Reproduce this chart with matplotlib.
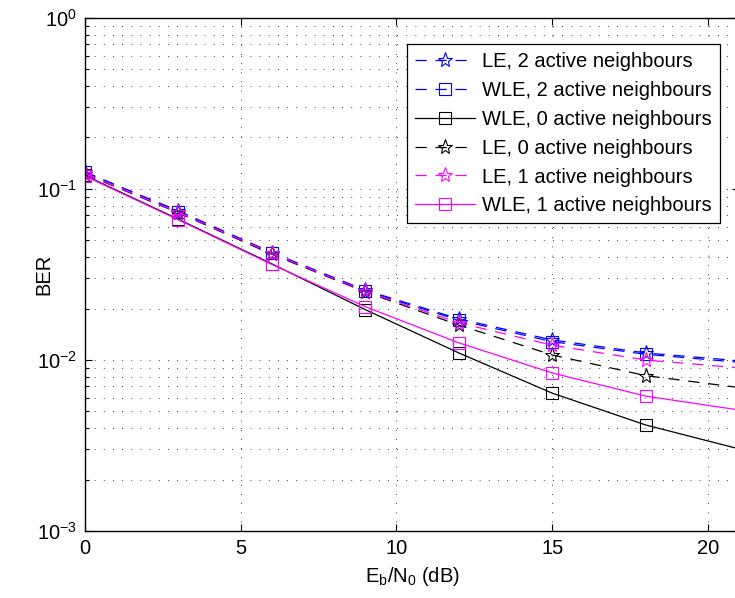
#!/usr/bin/env python
"""BER vs Eb/N0 for LE / WLE receivers with active neighbours."""

import matplotlib
matplotlib.use("Agg")
import matplotlib.pyplot as plt

plt.rcParams["font.family"] = ["Liberation Sans", "DejaVu Sans"]
plt.rcParams["mathtext.fontset"] = "custom"
plt.rcParams["mathtext.rm"] = "Liberation Sans"
plt.rcParams["mathtext.it"] = "Liberation Sans:italic"
plt.rcParams["mathtext.bf"] = "Liberation Sans:bold"

# Eb/N0 in dB
ebn0 = [0, 3, 6, 9, 12, 15, 18, 21]

ber_le_2 = [0.125, 0.0745, 0.0425, 0.0256, 0.0174, 0.0131, 0.0110, 0.0099]
ber_wle_2 = [0.126, 0.0735, 0.0420, 0.0253, 0.0171, 0.0128, 0.0108, 0.0097]
ber_wle_0 = [0.120, 0.0665, 0.0365, 0.0197, 0.0110, 0.0064, 0.00417, 0.00302]
ber_le_0 = [0.122, 0.0725, 0.0415, 0.0250, 0.0160, 0.0107, 0.0081, 0.0069]
ber_le_1 = [0.123, 0.0730, 0.0420, 0.0252, 0.0165, 0.0122, 0.0100, 0.0090]
ber_wle_1 = [0.119, 0.0660, 0.0362, 0.0205, 0.0126, 0.0084, 0.00615, 0.0051]

labels = [
    "LE, 2 active neighbours",
    "WLE, 2 active neighbours",
    "WLE, 0 active neighbours",
    "LE, 0 active neighbours",
    "LE, 1 active neighbours",
    "WLE, 1 active neighbours",
]

FS = 14.5


def main() -> None:
    fig = plt.figure(figsize=(7.35, 5.98), dpi=100)
    ax = fig.add_axes([0.1156, 0.112, 0.890, 0.858])

    dash = (0, (9, 7))
    styles = [
        (ber_le_2, "blue", dash, "*", 11),
        (ber_wle_2, "blue", dash, "s", 8),
        (ber_wle_0, "black", "-", "s", 8),
        (ber_le_0, "black", dash, "*", 11),
        (ber_le_1, "magenta", dash, "*", 11),
        (ber_wle_1, "magenta", "-", "s", 8),
    ]
    for (vals, color, ls, marker, ms), label in zip(styles, labels):
        ax.semilogy(ebn0, vals, color=color, linestyle=ls, linewidth=0.9,
                    marker=marker, markersize=ms, markerfacecolor="none",
                    markeredgecolor=color, markeredgewidth=0.8,
                    markevery=slice(0, 7), label=label)

    ax.set_xlim(0, 21)
    ax.set_ylim(1e-3, 1)
    ax.set_xticks([0, 5, 10, 15, 20])

    grid_style = dict(color="black", linestyle=(0, (1, 10)), linewidth=0.6)
    ax.grid(True, which="major", axis="x", **grid_style)
    ax.grid(True, which="both", axis="y", **grid_style)

    ax.tick_params(which="both", direction="in", top=True, right=True,
                   labelsize=FS, width=0.8)
    ax.tick_params(which="major", length=5, pad=6)
    ax.tick_params(which="minor", length=3)
    for side in ax.spines.values():
        side.set_linewidth(1.0)

    ax.set_xlabel(r"$\mathrm{E_b/N_0}$ (dB)", fontsize=FS, labelpad=5)
    ax.set_ylabel("BER", fontsize=FS)
    ax.yaxis.set_label_coords(-0.048, 0.5)

    leg = ax.legend(loc="upper right", bbox_to_anchor=(720 / 735, 1 - 44 / 598),
                    bbox_transform=fig.transFigure, borderaxespad=0,
                    fontsize=FS, handlelength=3.0, handletextpad=0.35,
                    labelspacing=0.49, borderpad=0.4, fancybox=False,
                    framealpha=1, edgecolor="black")
    leg.get_frame().set_linewidth(0.9)

    fig.savefig("out.png", dpi=100)
    plt.close(fig)


if __name__ == "__main__":
    main()
